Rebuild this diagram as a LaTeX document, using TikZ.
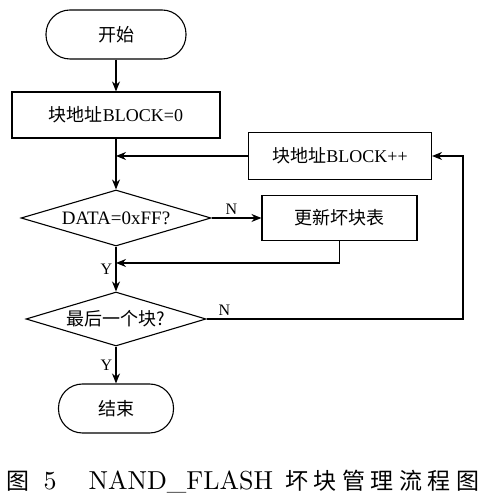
\documentclass[tikz,border=0pt]{standalone}
\usepackage{fontspec}
\newfontfamily\cjk{Noto Sans CJK SC}
\newfontfamily\tnr{Liberation Serif}
\newfontfamily\capfont{lmroman10-regular}[Extension=.otf]
\usetikzlibrary{shapes.geometric,arrows.meta}

\begin{document}
\begin{tikzpicture}[x=1pt,y=1pt,line width=1.1pt,
    terminal/.style={draw, rectangle, rounded corners=24pt, minimum width=140pt,
      minimum height=49pt, font=\cjk\fontsize{18}{21}\selectfont},
    process/.style={draw, rectangle, minimum height=46pt,
      font=\tnr\fontsize{18}{21}\selectfont},
    decision/.style={draw, diamond, aspect=3.4, inner sep=0pt,
      font=\tnr\fontsize{19}{22}\selectfont},
    flow/.style={-{Stealth[length=10pt,width=8pt]}},
    tag/.style={font=\tnr\fontsize{16}{18}\selectfont}]
            \useasboundingbox (0,0) rectangle (484,502);
            
            % Main column
            \node[terminal] (start) at (116,467.5) {开始};
            \node[process, minimum width=208pt] (init) at (116,387) {{\cjk 块地址}BLOCK=0};
            \node[decision, minimum width=190pt, minimum height=56pt] (check) at (116,284) {DATA=0xFF?};
            \node[decision, minimum width=180pt, minimum height=54pt,
              font=\cjk\fontsize{18}{21}\selectfont] (last) at (116,183) {最后一个块?};
            \node[terminal, minimum width=115pt] (stop) at (116,93.5) {结束};
            
            % Side boxes
            \node[process, minimum width=183pt, minimum height=47pt] (next) at (340,346) {{\cjk 块地址}BLOCK++};
            \node[process, minimum width=155pt, minimum height=45pt,
              font=\cjk\fontsize{18}{21}\selectfont] (update) at (339.5,284) {更新坏块表};
            
            % Corner points
            \coordinate (merge) at (116,239);
            \coordinate (turn) at (463,183);
            
            % Arrows down the main column
            \draw[flow] (start) -- (init);
            \draw[flow] (init) -- (check);
            \draw[flow] (check) -- node[tag, left, pos=0.5] {Y} (last);
            \draw[flow] (last) -- node[tag, left] {Y} (stop);
            
            % Branches
            \draw[flow] (check) -- node[tag, above, pos=0.4] {N} (update);
            \draw[flow] (update.south) |- (merge);
            \draw[flow] (last.east) -- node[tag, above, pos=0.07] {N} (turn) |- (next.east);
            \draw[flow] (next.west) -- (next.west -| init.south);
            
            % Caption
            \node[anchor=west, inner sep=0pt, font=\capfont\fontsize{26}{30}\selectfont] (caption) at (6,20.5)
              {{\cjk\fontsize{23}{28}\selectfont 图}\hspace{14pt}5\hspace{32pt}NAND\_FLASH\hspace{12pt}{\cjk\fontsize{23}{28}\selectfont 坏\hspace{5.5pt}块\hspace{5.5pt}管\hspace{5.5pt}理\hspace{5.5pt}流\hspace{5.5pt}程\hspace{5.5pt}图}};
\end{tikzpicture}
\end{document}
